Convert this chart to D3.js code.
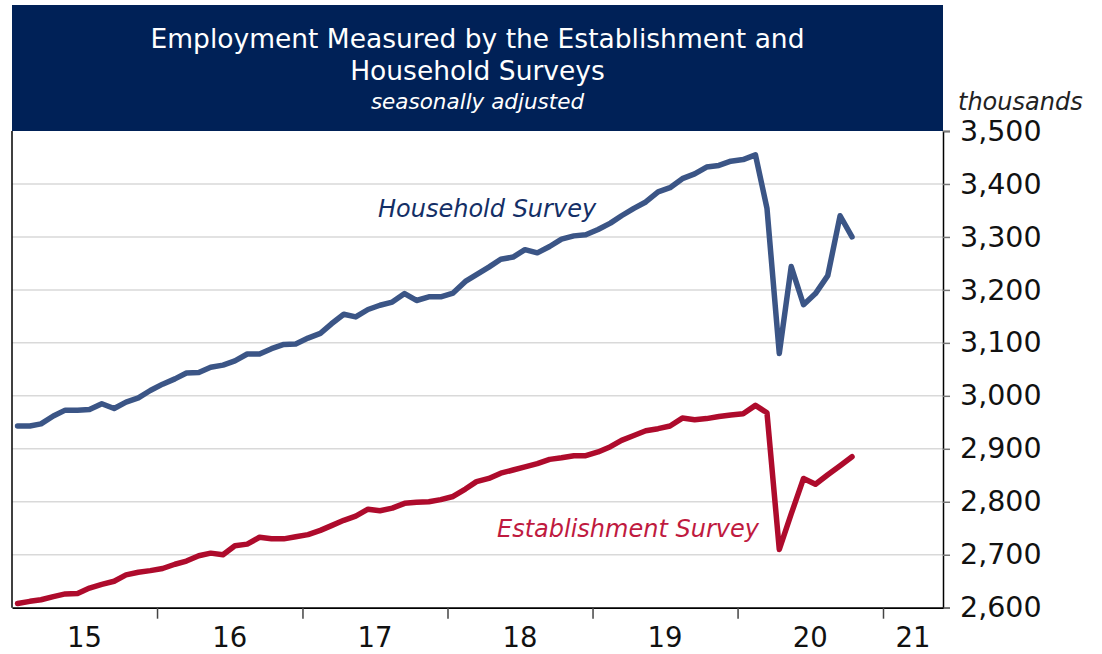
<!DOCTYPE html>
<html>
<head>
<meta charset="utf-8">
<script src="https://cdn.jsdelivr.net/npm/d3@7"></script>
<style>
  html, body { margin: 0; padding: 0; background: #fff; }
  svg { display: block; }
  text { font-family: "DejaVu Sans", Verdana, sans-serif; }
</style>
</head>
<body>
<svg id="chart" width="1102" height="654"></svg>
<script>
// ---- data (thousands, seasonally adjusted), monthly Jan 2015 – Oct 2020 ----
const startMonth = new Date(2015, 0, 1);
const endMonth = new Date(2020, 10, 1); // exclusive
const household = [
  2943, 2943, 2947, 2962, 2973, 2973, 2974, 2985, 2976, 2988, 2996, 3010,
  3022, 3032, 3043, 3044, 3054, 3058, 3066, 3079, 3079, 3089, 3097, 3098,
  3109, 3118, 3136, 3154, 3149, 3163, 3171, 3177, 3193, 3180, 3187, 3187,
  3194, 3216, 3229, 3243, 3258, 3262, 3276, 3270, 3282, 3296, 3302, 3304,
  3314, 3326, 3340, 3354, 3366, 3385, 3393, 3410, 3419, 3432, 3435, 3443,
  3446, 3455, 3354, 3080, 3244, 3172, 3193, 3227, 3340, 3300
];
const establishment = [
  2608, 2612, 2615, 2621, 2626, 2627, 2637, 2644, 2650, 2662, 2667, 2670,
  2674, 2682, 2688, 2698, 2703, 2700, 2717, 2720, 2733, 2730, 2730, 2734,
  2738, 2746, 2755, 2765, 2773, 2786, 2783, 2788, 2797, 2799, 2800, 2804,
  2810, 2824, 2838, 2844, 2854, 2860, 2866, 2872, 2880, 2883, 2887, 2887,
  2894, 2904, 2916, 2925, 2934, 2938, 2943, 2958, 2955, 2957, 2961, 2964,
  2966, 2982, 2968, 2710, 2777, 2844, 2833, 2851, 2868, 2885
];
const yTicks = [2600, 2700, 2800, 2900, 3000, 3100, 3200, 3300, 3400, 3500];
const yearLabels = ["15", "16", "17", "18", "19", "20", "21"];
const titleLines = ["Employment Measured by the Establishment and", "Household Surveys"];
const subtitle = "seasonally adjusted";
const unitLabel = "thousands";
const seriesNames = ["Household Survey", "Establishment Survey"];

// ---- layout ----
const svg = d3.select("#chart");
const L = 12, R = 943, T = 131, B = 607.7;
const domainStart = new Date(2015, 0, 1), domainEnd = new Date(2021, 5, 1);

const months = d3.timeMonth.range(startMonth, endMonth);
const x = d3.scaleTime().domain([domainStart, domainEnd]).range([L, R]);
const y = d3.scaleLinear().domain([2600, 3500]).range([B, T]);
const mid = d => new Date(d.getFullYear(), d.getMonth(), 15);

// gridlines
svg.append("g")
  .selectAll("line")
  .data(yTicks.filter(v => v > 2600 && v < 3500))
  .join("line")
  .attr("x1", L).attr("x2", R)
  .attr("y1", d => y(d)).attr("y2", d => y(d))
  .attr("stroke", "#d9d9d9").attr("stroke-width", 1.5);

// title box
svg.append("rect")
  .attr("x", L).attr("y", 5).attr("width", R - L).attr("height", T - 5)
  .attr("fill", "#002157");
const cx = (L + R) / 2;
svg.append("text").attr("x", cx).attr("y", 48).attr("text-anchor", "middle")
  .attr("fill", "#fff").attr("font-size", 26.5).text(titleLines[0]);
svg.append("text").attr("x", cx).attr("y", 80).attr("text-anchor", "middle")
  .attr("fill", "#fff").attr("font-size", 26.5).text(titleLines[1]);
svg.append("text").attr("x", cx).attr("y", 109).attr("text-anchor", "middle")
  .attr("fill", "#fff").attr("font-size", 21.5).attr("font-style", "italic").text(subtitle);

// frame left
svg.append("line").attr("x1", L).attr("x2", L).attr("y1", T).attr("y2", B)
  .attr("stroke", "#000").attr("stroke-width", 1.5);

// right axis
const yAxis = d3.axisRight(y).tickValues(yTicks).tickFormat(d3.format(",")).tickSize(7).tickPadding(10);
const gy = svg.append("g").attr("transform", `translate(${R},0)`).call(yAxis);
gy.select(".domain").attr("stroke", "#000").attr("stroke-width", 1.5);
gy.selectAll(".tick line").attr("stroke", "#777").attr("stroke-width", 1.5);
gy.selectAll(".tick text").attr("font-size", 28.5).attr("fill", "#111")
  .attr("font-family", "'DejaVu Sans', Verdana, sans-serif");

svg.append("text").attr("x", 958).attr("y", 110).attr("font-size", 24)
  .attr("font-style", "italic").attr("fill", "#222").text(unitLabel);

// bottom axis
const yearTicks = d3.timeYear.range(new Date(2015, 0, 1), new Date(2021, 1, 1));
const xAxis = d3.axisBottom(x).tickValues(yearTicks).tickFormat("").tickSize(11).tickSizeOuter(0);
const gx = svg.append("g").attr("transform", `translate(0,${B})`).call(xAxis);
gx.select(".domain").attr("stroke", "#000").attr("stroke-width", 1.8);
gx.selectAll(".tick line").attr("stroke", "#444").attr("stroke-width", 1.5);
gx.selectAll(".tick").filter((d, i) => i === 0).select("line").remove();

svg.append("g").selectAll("text")
  .data(yearLabels)
  .join("text")
  .attr("x", (d, i) => {
    const a = new Date(2015 + i, 0, 1);
    const b = new Date(Math.min(+new Date(2016 + i, 0, 1), +domainEnd));
    return (x(a) + x(b)) / 2;
  })
  .attr("y", 647)
  .attr("text-anchor", "middle")
  .attr("font-size", 27.5)
  .attr("fill", "#111")
  .text(d => d);

// lines
const line = d3.line().x((d, i) => x(mid(months[i]))).y(d => y(d));
svg.append("path").datum(household).attr("d", line)
  .attr("fill", "none").attr("stroke", "#3b5586").attr("stroke-width", 5.5)
  .attr("stroke-linejoin", "round").attr("stroke-linecap", "round");
svg.append("path").datum(establishment).attr("d", line)
  .attr("fill", "none").attr("stroke", "#ae0b2c").attr("stroke-width", 5.5)
  .attr("stroke-linejoin", "round").attr("stroke-linecap", "round");

// series labels
svg.append("text").attr("x", 378).attr("y", 217).attr("font-size", 24)
  .attr("font-style", "italic").attr("fill", "#142f66").text(seriesNames[0]);
svg.append("text").attr("x", 497).attr("y", 537).attr("font-size", 24)
  .attr("font-style", "italic").attr("fill", "#bf1a3f").text(seriesNames[1]);
</script>
</body>
</html>
